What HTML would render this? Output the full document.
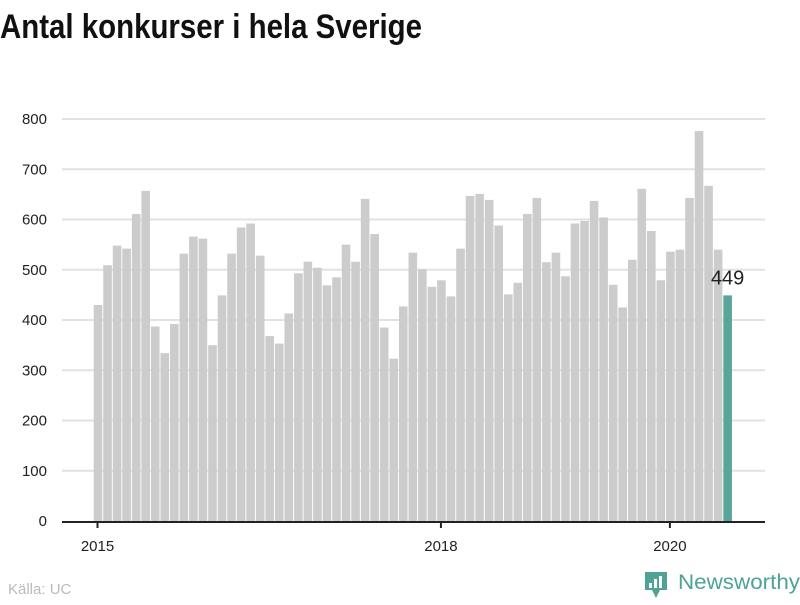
<!DOCTYPE html>
<html><head><meta charset="utf-8"><style>
body{margin:0;width:800px;height:600px;background:#fff;overflow:hidden;font-family:"Liberation Sans",sans-serif}
svg text{font-family:"Liberation Sans",sans-serif}
</style></head><body>
<svg id="chart" width="800" height="600">
<text x="0" y="38" font-size="34" font-weight="bold" fill="#111" textLength="422" lengthAdjust="spacingAndGlyphs">Antal konkurser i hela Sverige</text>
<g id="grid"></g><g id="bars"></g><g id="xaxis"></g>
<text x="8" y="594" font-size="15" fill="#bbb">Källa: UC</text>
<g>
<path d="M645 572 h22 v18 h-7 l-4 8 l-4 -8 h-7 z" fill="#4fa294"/>
<rect x="649" y="583" width="3" height="5" fill="#fff"/><rect x="654" y="579" width="3" height="9" fill="#fff"/><rect x="659" y="576" width="3" height="12" fill="#fff"/>
<text x="678" y="589" font-size="21" fill="#4fa294" textLength="122" lengthAdjust="spacingAndGlyphs">Newsworthy</text>
</g>
</svg>
<script>
const yearLabels=["2015","2018","2020"];
const yearIndex=[0,36,60];
const yTicks=[0,100,200,300,400,500,600,700,800];
const values=[430,509,548,542,611,657,387,334,392,532,566,562,
350,449,532,584,592,528,368,353,413,493,516,504,
469,485,550,516,641,571,385,323,427,534,501,466,
479,447,542,647,651,639,588,451,474,611,643,515,
534,487,592,597,637,604,470,425,520,661,577,479,
536,540,643,776,667,540,449];
const NS="http://www.w3.org/2000/svg";
const y=v=>521-v*402/800;
const x=i=>98+i*9.54;
function mk(t,a,p){const e=document.createElementNS(NS,t);for(const k in a)e.setAttribute(k,a[k]);p.appendChild(e);return e;}
const grid=document.getElementById('grid'),bars=document.getElementById('bars'),xa=document.getElementById('xaxis');
yTicks.forEach(t=>{
 if(t>0){const l=mk('line',{x1:62,x2:765,y1:y(t),y2:y(t),stroke:'#e2e2e2','stroke-width':2},grid);
 
 }
 const tx=mk('text',{x:47,y:y(t)+5,'text-anchor':'end','font-size':15,fill:'#222'},grid);tx.textContent=t;
 
 
});
values.forEach((v,i)=>{
 const last=i===values.length-1;
 const r=mk('rect',{x:x(i)-4.3,y:y(v),width:8.6,height:521-y(v),fill:last?'#59a597':'#cccccc'},bars);
 
 
 if(last){const t=mk('text',{x:x(i),y:y(v)-11,'text-anchor':'middle','font-size':20,fill:'#222'},bars);t.textContent=v;
 
 }
});
const ax=mk('line',{x1:62,x2:765,y1:522,y2:522,stroke:'#222','stroke-width':2},xa);


yearLabels.forEach((lab,k)=>{
 const px=x(yearIndex[k])-0.5;
 const tk=mk('line',{x1:px,x2:px,y1:522,y2:528,stroke:'#222','stroke-width':2},xa);
 
 
 const t=mk('text',{x:px,y:551,'text-anchor':'middle','font-size':15,fill:'#222'},xa);t.textContent=lab;
 
 
});
</script>
</body></html>
